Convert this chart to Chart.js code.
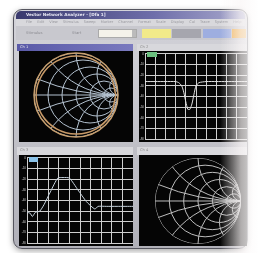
<!DOCTYPE html>
<html>
<head>
<meta charset="utf-8">
<script src="https://cdn.jsdelivr.net/npm/chart.js@4/dist/chart.umd.min.js"></script>
<style>
  html, body { margin: 0; padding: 0; background: #fff; }
  body { width: 258px; height: 253px; position: relative; overflow: hidden; font-family: "DejaVu Sans", sans-serif; }
  #scene { position: absolute; left: 0; top: 0; width: 258px; height: 253px; filter: blur(0.6px); }
  .abs { position: absolute; box-sizing: border-box; }
  #win { left: 13px; top: 9px; width: 235px; height: 240px; border-radius: 9px;
         background: linear-gradient(#d4d4da, #b0b0b8); border: 1px solid #55555e;
         box-shadow: 0 2px 6px rgba(0,0,0,0.35); }
  #title { left: 16px; top: 11px; width: 229px; height: 8px; border-radius: 5px 5px 0 0;
           background: linear-gradient(90deg, #3a3a6e, #6e6eaa 60%, #a8a8cc);
           color: #e8e8f4; font-size: 4.2px; font-weight: bold; line-height: 8px; padding-left: 10px; white-space: nowrap; }
  #menu { left: 16px; top: 19px; width: 229px; height: 7px; background: #d8d8dc;
          color: #9a9aa0; font-size: 3.6px; line-height: 7px; padding-left: 10px; white-space: nowrap; word-spacing: 4px; }
  #tool { left: 16px; top: 26px; width: 229px; height: 14px; background: #c8c8ce; }
  .lbl { color: #8a8a90; font-size: 3.8px; white-space: nowrap; }
  .hdr { height: 7px; background: #d8d8dc; font-size: 3.6px; line-height: 7px; color: #888; padding-left: 3px; }
  .plot { background: #050505; }
  #glare { left: 220px; top: 0; width: 38px; height: 253px;
           background: linear-gradient(90deg, rgba(255,255,255,0), rgba(250,246,246,0.7) 55%, rgba(255,255,255,0.9)); }
</style>
</head>
<body>
<div id="scene">
  <div id="win" class="abs"></div>
  <div id="title" class="abs">Vector Network Analyzer - [Dfa 1]</div>
  <div id="menu" class="abs">File Edit View Stimulus Sweep Marker Channel Format Scale Display Cal Trace System Help</div>
  <div id="tool" class="abs"></div>
  <div class="abs lbl" style="left:26px;top:30px;">Stimulus</div>
  <div class="abs lbl" style="left:72px;top:30px;">Start</div>
  <div class="abs" style="left:98px;top:29px;width:39px;height:9px;background:#f4f2ea;border:1px solid #aaa;"></div>
  <div class="abs" style="left:132px;top:30px;width:4px;height:7px;background:#bbb;"></div>
  <div class="abs" style="left:142px;top:29px;width:29px;height:9px;background:#f2ea8a;"></div>
  <div class="abs" style="left:172px;top:29px;width:29px;height:9px;background:#a6a6ae;"></div>
  <div class="abs" style="left:203px;top:29px;width:28px;height:9px;background:#9eaee0;"></div>
  <div class="abs" style="left:232px;top:29px;width:14px;height:9px;background:#f0b050;"></div>

  <div class="abs hdr" style="left:17px;top:44px;width:116px;background:linear-gradient(90deg,#5a5aa8,#7a7abf);color:#eee;">Ch 1</div>
  <div class="abs hdr" style="left:137px;top:44px;width:110px;">Ch 2</div>
  <div class="abs hdr" style="left:17px;top:147px;width:116px;height:8px;">Ch 3</div>
  <div class="abs hdr" style="left:137px;top:147px;width:110px;height:8px;">Ch 4</div>

  <div class="abs plot" style="left:19px;top:51px;width:114px;height:91px;"><canvas id="smith1"></canvas></div>
  <div class="abs plot" style="left:139px;top:51px;width:108px;height:91px;"><canvas id="notch"></canvas></div>
  <div class="abs plot" style="left:19px;top:155px;width:114px;height:91px;"><canvas id="pass"></canvas></div>
  <div class="abs plot" style="left:139px;top:155px;width:108px;height:91px;"><canvas id="smith2"></canvas></div>

  <div class="abs" style="left:147px;top:52px;width:10px;height:5px;background:#6cc080;"></div>
  <div class="abs" style="left:29px;top:157px;width:9px;height:5px;background:#8cc4ea;"></div>
  <div id="glare" class="abs"></div>
</div>

<script>
// smith chart grid values
const smithR = [0, 0.2, 0.5, 1, 2, 5];
const smithX = [0.2, 0.5, 1, 2, 5];

// trace on channel 1 (reflection, polar)
const ringAngle = [0, 30, 60, 90, 120, 150, 180, 210, 240, 270, 300, 330, 360];
const ringMag = [0.95, 0.94, 0.94, 0.93, 0.93, 0.94, 0.95, 0.94, 0.93, 0.93, 0.94, 0.94, 0.95];

// channel 2: notch
const notchFreq = [0, 10, 20, 30, 33, 36, 38, 40, 42, 44, 46, 48, 50, 53, 60, 70, 80, 90, 100];
const notchDb = [-26, -26, -26, -26, -27, -30, -36, -45, -52, -52, -47, -38, -30, -27, -26, -26, -26, -26, -26];

// channel 3: passband
const passFreq = [0, 3, 5, 8, 12, 16, 22, 29, 34, 40, 48, 56, 64, 67, 75, 85, 100];
const passDb = [-51, -52, -55, -51, -50, -44, -32, -19, -18.5, -19, -30, -41, -48, -45.5, -45.5, -45.5, -45.5];

const dbTicks = [0, -10, -20, -30, -40, -50, -60, -70, -80];

function toPoints(xs, ys) {
  return xs.map((x, i) => ({ x, y: ys[i] }));
}

function polarPoints(angles, mags) {
  return angles.map((a, i) => ({
    x: mags[i] * Math.cos((a * Math.PI) / 180),
    y: mags[i] * Math.sin((a * Math.PI) / 180),
  }));
}

const smithGrid = {
  id: "smithGrid",
  beforeDatasetsDraw(chart, args, opts) {
    const { ctx } = chart;
    const xs = chart.scales.x;
    const ys = chart.scales.y;
    const cx = xs.getPixelForValue(0);
    const cy = ys.getPixelForValue(0);
    const unit = xs.getPixelForValue(1) - cx;
    ctx.save();
    ctx.strokeStyle = opts.color;
    ctx.lineWidth = 1;
    ctx.beginPath();
    ctx.arc(cx, cy, unit, 0, Math.PI * 2);
    ctx.clip();
    for (const r of smithR) {
      ctx.beginPath();
      ctx.arc(cx + (r / (1 + r)) * unit, cy, unit / (1 + r), 0, Math.PI * 2);
      ctx.stroke();
    }
    for (const x of smithX) {
      for (const s of [1, -1]) {
        ctx.beginPath();
        ctx.arc(cx + unit, cy - (s / x) * unit, unit / x, 0, Math.PI * 2);
        ctx.stroke();
      }
    }
    ctx.beginPath();
    ctx.moveTo(cx - unit, cy);
    ctx.lineTo(cx + unit, cy);
    ctx.stroke();
    ctx.restore();
    if (opts.rim) {
      ctx.save();
      ctx.strokeStyle = opts.rim;
      ctx.lineWidth = 1.5;
      ctx.beginPath();
      ctx.arc(cx, cy, unit, 0, Math.PI * 2);
      ctx.stroke();
      ctx.restore();
    }
  },
};

function makeSmith(id, range, grid, rim, data) {
  new Chart(document.getElementById(id), {
    type: "scatter",
    data: {
      datasets: data
        ? [{ data, showLine: true, borderColor: "#c89a68", borderWidth: 1.5, pointRadius: 0, tension: 0.4 }]
        : [],
    },
    options: {
      responsive: true,
      maintainAspectRatio: false,
      animation: false,
      layout: { padding: 0 },
      scales: {
        x: { display: false, min: range[0], max: range[1] },
        y: { display: false, min: range[2], max: range[3] },
      },
      plugins: { legend: { display: false }, tooltip: { enabled: false }, smithGrid: { color: grid, rim } },
    },
    plugins: [smithGrid],
  });
}

function makeRect(id, points, color, yAxisWidth) {
  new Chart(document.getElementById(id), {
    type: "line",
    data: { datasets: [{ data: points, borderColor: color, borderWidth: 1, pointRadius: 0, tension: 0.2 }] },
    options: {
      responsive: true,
      maintainAspectRatio: false,
      animation: false,
      layout: { padding: 0 },
      scales: {
        x: {
          type: "linear", min: 0, max: 100,
          ticks: { display: false, stepSize: 10 },
          grid: { color: "#cfcfcf", lineWidth: 1, drawTicks: false },
          border: { display: false },
        },
        y: {
          min: -80, max: 0,
          afterBuildTicks: (s) => { s.ticks = dbTicks.map((v) => ({ value: v })); },
          afterFit: (s) => { s.width = yAxisWidth; },
          ticks: { color: "#cfcfcf", font: { size: 3 }, padding: 1, callback: (v) => v },
          grid: { color: "#cfcfcf", lineWidth: 1, drawTicks: false },
          border: { display: false },
        },
      },
      plugins: { legend: { display: false }, tooltip: { enabled: false } },
    },
  });
}

makeSmith("smith1", [-1.357, 1.357, -1.119, 1.048], "#b4c2d0", "#c8a070", polarPoints(ringAngle, ringMag));
makeRect("notch", toPoints(notchFreq, notchDb), "#e2e2e2", 6);
makeRect("pass", toPoints(passFreq, passDb), "#c6d2dc", 8);
makeSmith("smith2", [-1.372, 1.14, -1.047, 1.07], "#bdbdbd", null, null);
</script>
</body>
</html>
